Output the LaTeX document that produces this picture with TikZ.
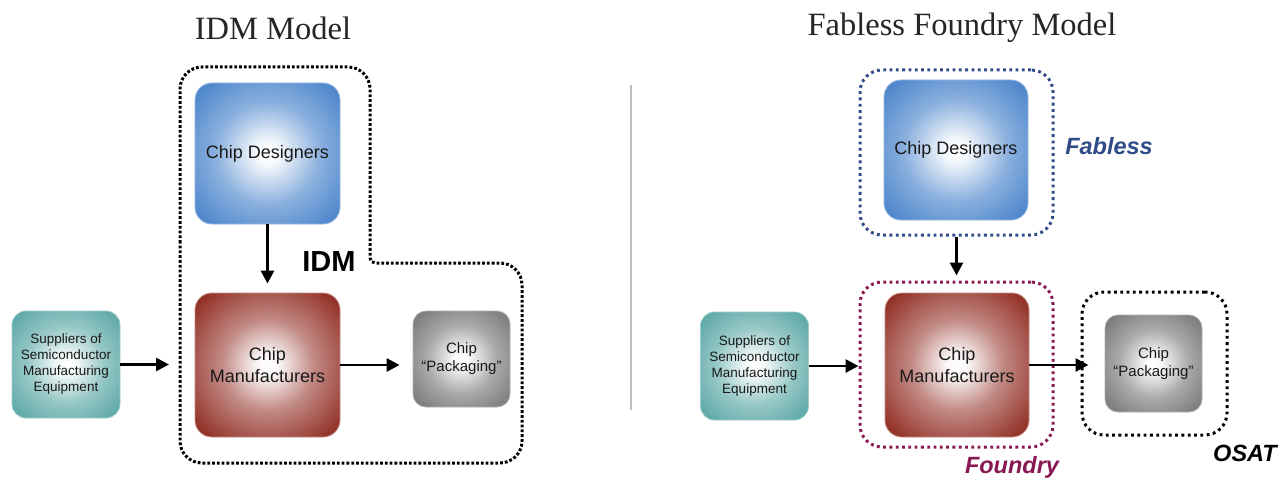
\documentclass[tikz,border=0pt]{standalone}
\usepackage{fontspec}
\setmainfont{Liberation Serif}
\setsansfont{Liberation Sans}
\usetikzlibrary{arrows.meta}
\definecolor{cblue}{RGB}{62,124,200}
\definecolor{cred}{RGB}{142,40,30}
\definecolor{cteal}{RGB}{80,162,160}
\definecolor{cgray}{RGB}{112,112,112}
\definecolor{cnavy}{RGB}{48,76,136}
\definecolor{cmaroon}{RGB}{136,24,82}
\pgfdeclareradialshading{shblue}{\pgfpoint{0bp}{0bp}}{color(0bp)=(white); color(4bp)=(white!95!cblue); color(18bp)=(cblue!60!white); color(36bp)=(cblue); color(75bp)=(cblue!85!black)}
\pgfdeclareradialshading{shred}{\pgfpoint{0bp}{0bp}}{color(0bp)=(white); color(4bp)=(white!95!cred); color(16bp)=(cred!55!white); color(34bp)=(cred); color(75bp)=(cred!85!black)}
\pgfdeclareradialshading{shteal}{\pgfpoint{0bp}{0bp}}{color(0bp)=(white); color(4bp)=(white!95!cteal); color(18bp)=(cteal!60!white); color(36bp)=(cteal); color(75bp)=(cteal!85!black)}
\pgfdeclareradialshading{shgray}{\pgfpoint{0bp}{0bp}}{color(0bp)=(white); color(4bp)=(white!95!cgray); color(18bp)=(cgray!60!white); color(36bp)=(cgray); color(75bp)=(cgray!85!black)}
\newcommand\bxfont{\fontsize{18}{22}\selectfont}
\newcommand\smfont{\fontsize{13.5}{16}\selectfont}
\newcommand\pkfont{\fontsize{15}{18}\selectfont}
\tikzset{
  box/.style={rounded corners=17pt, line width=0.8pt, font=\sffamily, align=center, text=black!90, inner sep=0pt},
  cdbox/.style={box, shading=shblue, draw=cblue!55!white, minimum width=145pt, minimum height=141pt, font=\sffamily\bxfont},
  cmbox/.style={box, shading=shred, draw=cred!55!white, minimum width=145pt, minimum height=144pt, font=\sffamily\bxfont},
  supbox/.style={box, rounded corners=14pt, shading=shteal, draw=cteal!55!white, minimum width=108pt, minimum height=107pt, font=\sffamily\smfont},
  pkbox/.style={box, rounded corners=13pt, shading=shgray, draw=cgray!55!white, minimum width=97pt, minimum height=96pt, font=\sffamily\pkfont},
  denseline/.style={line width=3pt, dash pattern=on 2.8pt off 2pt, line cap=butt},
  dotline/.style={line width=3pt, dash pattern=on 2.8pt off 3.5pt, line cap=butt},
  grpbox/.style={dotline, rounded corners=22pt, inner sep=0pt},
  arr/.style={line width=2.8pt, -{Triangle[length=13pt,width=13pt]}},
  ttl/.style={font=\rmfamily\fontsize{32.5}{36}\selectfont, text=black!85},
  grplbl/.style={font=\sffamily\bfseries\itshape\fontsize{23.5}{26}\selectfont}
}
\begin{document}
\begin{tikzpicture}[x=1pt,y=-1pt]
\useasboundingbox[fill=white] (0,0) rectangle (1286,487);
% titles
\node[ttl] (t1) at (273,28) {IDM Model};
\node[ttl] (t2) at (962,28) {Fabless Foundry Model};
% divider
\coordinate (d1) at (631,85);
\coordinate (d2) at (631,410);
\draw[black!25, line width=1.2pt] (d1) -- (d2);
% ---------- IDM side ----------
\draw[denseline, rounded corners=22pt] (180,265) -- (180,67) -- (370,67) [rounded corners=5pt] -- (370,263) [rounded corners=22pt] -- (522,263) -- (522,463) -- (180,463) -- cycle;
\node[font=\sffamily\bfseries\fontsize{29}{32}\selectfont] (idmlbl) at (329,262) {IDM};
\node[cdbox] (lcd) at (267.5,153.5) {Chip Designers};
\node[cmbox] (lcm) at (267.5,365) {Chip\\Manufacturers};
\node[pkbox] (lcp) at (461.5,359) {Chip\\“Packaging”};
\node[supbox] (lsup) at (66,364.5) {Suppliers of\\Semiconductor\\Manufacturing\\Equipment};
\coordinate (idmin) at (169,364.5);
\draw[arr, shorten >=9pt] (lcd.south) -- (lcm.north);
\draw[arr] (lsup.east) -- (idmin);
\draw[arr, shorten >=13pt] (lcm.east) -- (lcm.east -| lcp.west);
% ---------- Fabless Foundry side ----------
\node[grpbox, draw=cnavy, minimum width=193pt, minimum height=165pt] (fab) at (956.5,152.5) {};
\node[grpbox, draw=cmaroon, minimum width=193pt, minimum height=165pt] (fnd) at (956.5,364.5) {};
\node[grpbox, draw=black, minimum width=145pt, minimum height=143pt] (osat) at (1154.5,363.5) {};
\node[cdbox, minimum height=140pt, minimum width=144pt] (rcd) at (956,150) {Chip Designers};
\node[cmbox, minimum width=144pt] (rcm) at (957,365) {Chip\\Manufacturers};
\node[pkbox, minimum height=97pt] (rcp) at (1153.5,363.5) {Chip\\“Packaging”};
\node[supbox, minimum height=108pt] (rsup) at (754.5,366) {Suppliers of\\Semiconductor\\Manufacturing\\Equipment};
\node[grplbl, text=cnavy] (fablbl) at (1109,146) {Fabless};
\node[grplbl, text=cmaroon] (fndlbl) at (1012,467) {Foundry};
\node[grplbl, text=black] (osatlbl) at (1245,453) {OSAT};
\draw[arr, shorten >=5pt] (fab.south) -- (fnd.north);
\draw[arr] (rsup.east) -- (rsup.east -| fnd.west);
\draw[arr, shorten >=-8pt] (rcm.east) -- (rcm.east -| osat.west);
\end{tikzpicture}
\end{document}
